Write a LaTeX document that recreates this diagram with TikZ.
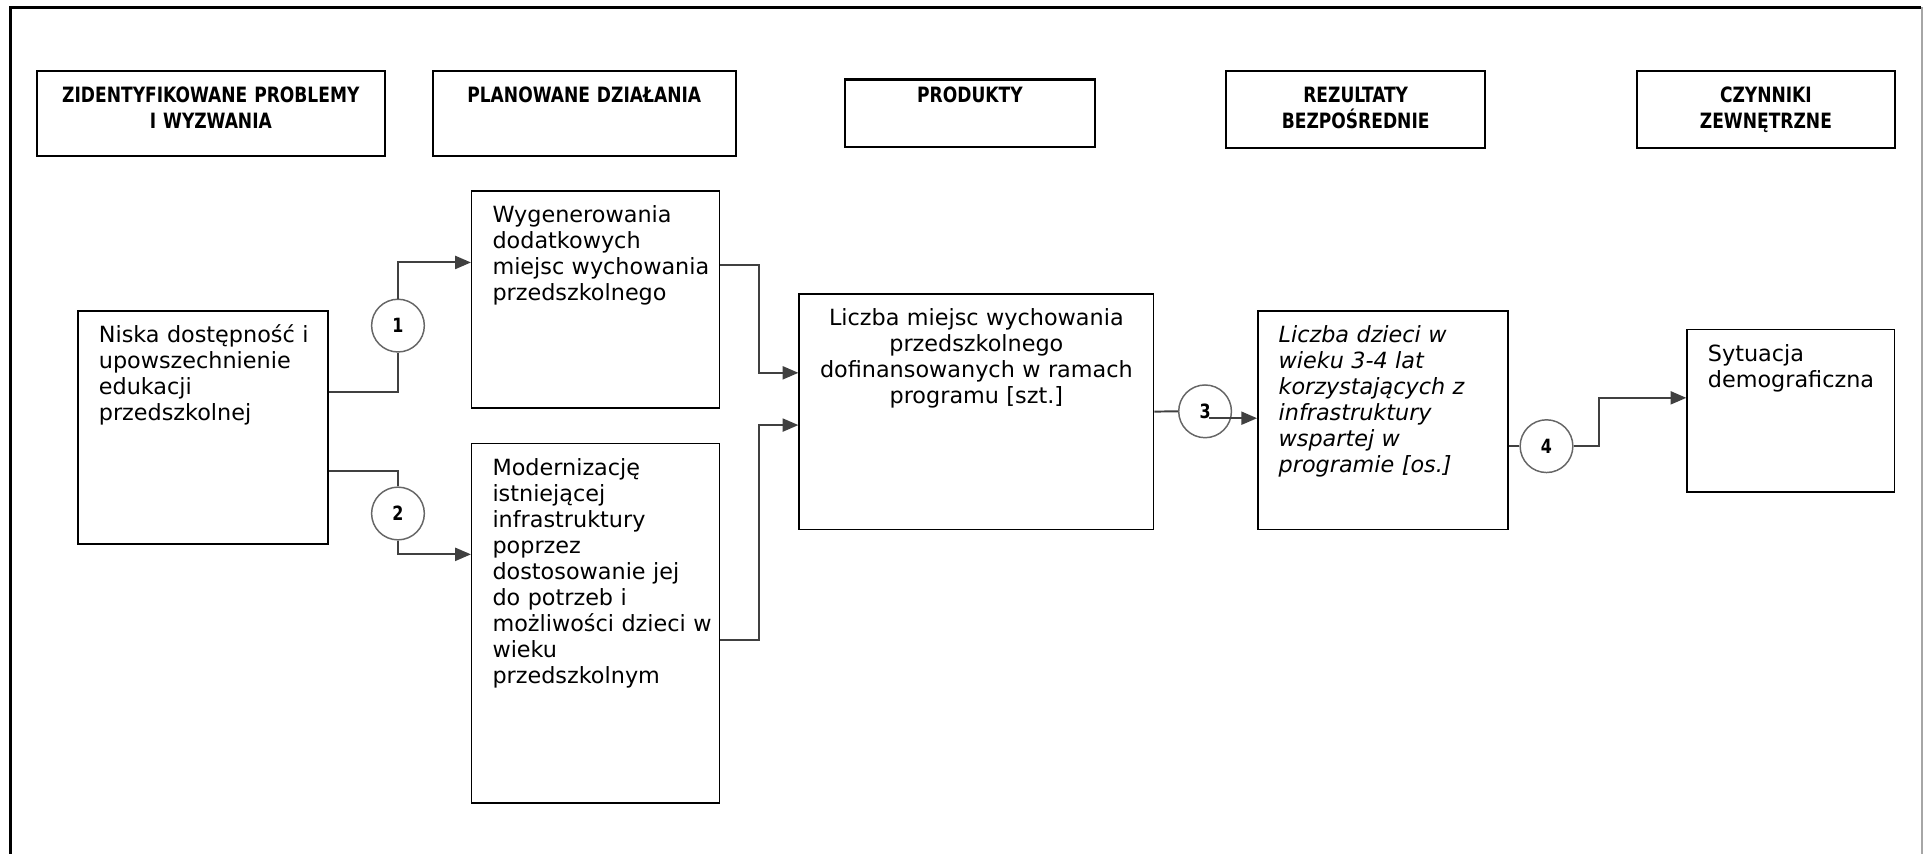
\documentclass[tikz,border=0pt]{standalone}
\usepackage{fontspec}
\setmainfont{DejaVu Sans}
\newfontfamily\hdfont[FakeStretch=0.9]{DejaVu Sans Condensed}
\usetikzlibrary{arrows.meta}
\hyphenpenalty=10000
\exhyphenpenalty=10000
\hbadness=10000
\hfuzz=20pt

\begin{document}
\begin{tikzpicture}
[x=0.5pt,y=-0.5pt,
  hdr/.style={draw,line width=0.9pt,anchor=north west,inner sep=0pt,align=center,
    text height=13pt,font=\hdfont\bfseries\fontsize{8.6}{10.5}\selectfont},
  box/.style={draw,line width=0.6pt,anchor=north west,inner xsep=8.5pt,inner ysep=0pt,
    text height=13pt,align=left,font=\fontsize{9.1}{10.6}\selectfont},
  num/.style={circle,draw=black!60,line width=0.6pt,minimum size=21.5pt,inner sep=0pt,
    font=\hdfont\bfseries\fontsize{8}{9}\selectfont},
  link/.style={draw=black!75,line width=0.8pt},
  arr/.style={link,-{Triangle[length=6.4pt,width=5.3pt]}}]
\useasboundingbox (0,0) rectangle (1568,696);
\draw[line width=1.4pt] (8.7,696) -- (8.7,6) -- (1566,6);
\draw[black!35,line width=0.6pt] (1567,6) -- (1567,696);

\node[hdr,text width=142pt,text depth=21.5pt] (hprob) at (29,57)
  {ZIDENTYFIKOWANE PROBLEMY\\I WYZWANIA};
\node[hdr,text width=123.5pt,text depth=21.5pt] (hdzial) at (352,57)
  {PLANOWANE DZIAŁANIA};
\node[hdr,text width=102pt,text height=9.5pt,text depth=18pt] (hprod) at (688,64)
  {PRODUKTY};
\node[hdr,text width=105.5pt,text depth=18.5pt] (hrez) at (999,57)
  {REZULTATY\\BEZPOŚREDNIE};
\node[hdr,text width=105pt,text depth=18.5pt] (hczyn) at (1334,57)
  {CZYNNIKI\\ZEWNĘTRZNE};

\node[box,text width=85pt,text depth=82pt] (niska) at (63,253)
  {Niska~dostępność~i\\upowszechnienie\\edukacji\\przedszkolnej};
\node[box,text width=84pt,text depth=75.5pt] (wyg) at (384,155)
  {Wygenerowania\\dodatkowych\\miejsc~wychowania\\przedszkolnego};
\node[box,text width=84pt,text depth=133.5pt] (mod) at (384,361)
  {Modernizację\\istniejącej\\infrastruktury\\poprzez\\dostosowanie~jej\\do~potrzeb~i\\możliwości~dzieci~w\\wieku\\przedszkolnym};
\node[box,align=center,text width=127.5pt,text depth=83pt] (lmiejsc) at (651,239)
  {Liczba~miejsc~wychowania\\przedszkolnego\\dofinansowanych~w~ramach\\programu~[szt.]};
\node[box,text width=85pt,text depth=76pt,font=\fontsize{9.1}{10.6}\selectfont\itshape] (ldzieci) at (1025,253)
  {Liczba~dzieci~w\\wieku~3-4~lat\\korzystających~z\\infrastruktury\\wspartej~w\\programie~[os.]};
\node[box,text width=67.5pt,text depth=53.3pt] (syt) at (1375,268)
  {Sytuacja\\demograficzna};

\node[num] (c1) at (324.5,265.5) {1};
\node[num] (c2) at (324.5,418.7) {2};
\node[num] (c3) at (982.6,335.4) {3};
\node[num] (c4) at (1261,363.8) {4};

\draw[link] ([yshift=-33.5pt]niska.north east) -| (c1.south);
\draw[arr] (c1.north) |- ([yshift=-29.5pt]wyg.north west);
\draw[link] ([yshift=-65.5pt]niska.north east) -| (c2.north);
\draw[arr] (c2.south) |- ([yshift=-45.5pt]mod.north west);
\draw[arr] ([yshift=-30.4pt]wyg.north east) -- ++(16pt,0) |- ([yshift=-32.5pt]lmiejsc.north west);
\draw[arr] ([yshift=-80.5pt]mod.north east) -- ++(16pt,0) |- ([yshift=-53.8pt]lmiejsc.north west);
\draw[link] (lmiejsc.east) -- (c3.west);
\coordinate (c3out) at ([xshift=1.5pt,yshift=-2.8pt]c3.center);
\draw[arr] (c3out) -- (c3out -| ldzieci.west);
\draw[link] (c4.west -| ldzieci.east) -- (c4.west);
\draw[arr] (c4.east) -- ++(10.5pt,0) |- ([yshift=-28.2pt]syt.north west);
\end{tikzpicture}
\end{document}
